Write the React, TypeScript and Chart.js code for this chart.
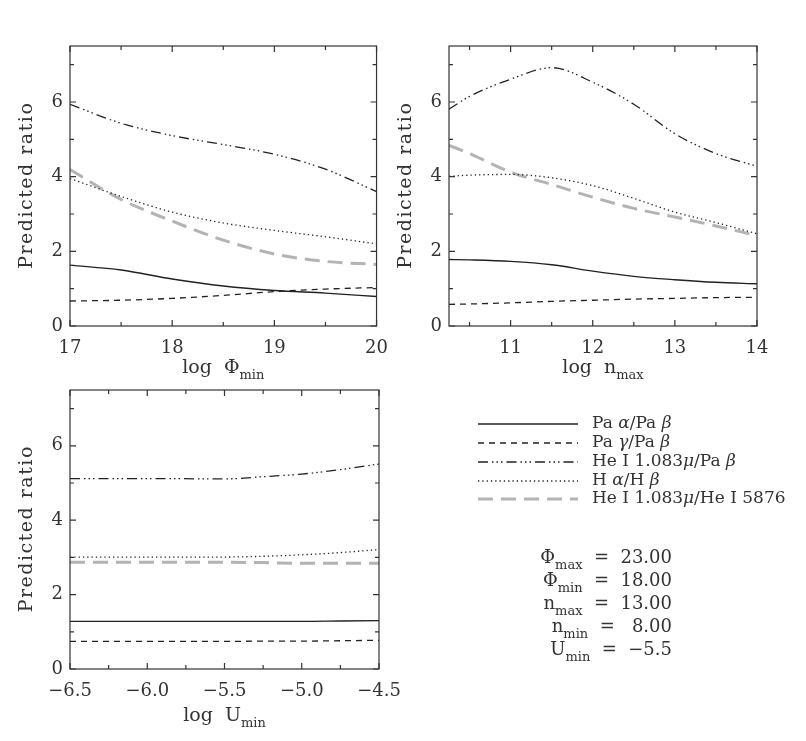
import React, { useEffect, useRef } from 'react';
import { Chart, registerables } from 'chart.js';
Chart.register(...registerables);

// ---------- data ----------
const SERIES_LABELS = ['Pa α/Pa β', 'Pa γ/Pa β', 'He I 1.083μ/Pa β', 'H α/H β', 'He I 1.083μ/He I 5876'];

const PHI_X = [17, 17.5, 18, 18.5, 19, 19.5, 20];
const PHI_PAA = [1.63, 1.5, 1.26, 1.07, 0.95, 0.88, 0.79];
const PHI_PAG = [0.67, 0.69, 0.74, 0.82, 0.92, 0.99, 1.03];
const PHI_HEPA = [5.94, 5.43, 5.1, 4.86, 4.6, 4.2, 3.6];
const PHI_HAHB = [3.95, 3.47, 3.05, 2.76, 2.56, 2.39, 2.2];
const PHI_HEHE = [4.19, 3.39, 2.81, 2.3, 1.93, 1.73, 1.65];

const N_X = [10.25, 10.5, 11, 11.5, 12, 12.5, 13, 13.5, 14];
const N_PAA = [1.78, 1.77, 1.73, 1.64, 1.47, 1.33, 1.24, 1.17, 1.13];
const N_PAG = [0.58, 0.59, 0.62, 0.66, 0.69, 0.72, 0.74, 0.76, 0.77];
const N_HEPA = [5.81, 6.15, 6.61, 6.92, 6.53, 5.94, 5.15, 4.62, 4.28];
const N_HAHB = [4.01, 4.04, 4.06, 3.97, 3.76, 3.42, 3.05, 2.77, 2.47];
const N_HEHE = [4.84, 4.62, 4.12, 3.79, 3.45, 3.15, 2.92, 2.68, 2.42];

const U_X = [-6.5, -6.0, -5.5, -5.25, -5.0, -4.75, -4.5];
const U_PAA = [1.28, 1.28, 1.28, 1.28, 1.28, 1.29, 1.3];
const U_PAG = [0.74, 0.74, 0.74, 0.75, 0.75, 0.76, 0.77];
const U_HEPA = [5.12, 5.12, 5.11, 5.17, 5.24, 5.36, 5.51];
const U_HAHB = [3.01, 3.01, 3.01, 3.03, 3.07, 3.13, 3.21];
const U_HEHE = [2.87, 2.87, 2.87, 2.86, 2.84, 2.84, 2.84];

const Y_TICKS = [0, 2, 4, 6];
const Y_MINOR = [1, 3, 5, 7];
const PHI_TICKS = [17, 18, 19, 20];
const PHI_MINOR = [17.5, 18.5, 19.5];
const N_TICKS = [11, 12, 13, 14];
const N_MINOR = [10.5, 11.5, 12.5, 13.5];
const U_TICKS = [-6.5, -6.0, -5.5, -5.0, -4.5];
const U_MINOR = [-6.25, -5.75, -5.25, -4.75];

const PARAM_NAMES = ['Φ', 'Φ', 'n', 'n', 'U'];
const PARAM_SUBS = ['max', 'min', 'max', 'min', 'min'];
const PARAM_VALUES = ['23.00', '18.00', '13.00', ' 8.00', '−5.5'];

// ---------- styles ----------
const FONT = '"DejaVu Serif", serif';
const INK = '#333';
const STYLES = [
  { color: '#222', width: 1.4, dash: [] as number[] },
  { color: '#222', width: 1.3, dash: [6, 5] },
  { color: '#222', width: 1.3, dash: [10, 4, 1.5, 3, 1.5, 3, 1.5, 4] },
  { color: '#222', width: 1.3, dash: [1.3, 3] },
  { color: '#b3b3b3', width: 3, dash: [15, 8] },
];

type Seg = { t: string; size: number; italic?: boolean; dy?: number };

function fontStr(s: Seg) {
  return `${s.italic ? 'italic ' : ''}${s.size}px ${FONT}`;
}

function drawRich(ctx: any, segs: Seg[], x: number, y: number, align: string, spacing = 0) {
  ctx.letterSpacing = spacing + 'px';
  const widths = segs.map((s) => {
    ctx.font = fontStr(s);
    return ctx.measureText(s.t).width;
  });
  const total = widths.reduce((a, b) => a + b, 0) - spacing;
  let cx = align === 'left' ? x : align === 'center' ? x - total / 2 : x - total;
  ctx.textAlign = 'left';
  segs.forEach((s, i) => {
    ctx.font = fontStr(s);
    ctx.fillText(s.t, cx, y + (s.dy || 0));
    cx += widths[i];
  });
  ctx.letterSpacing = '0px';
}

function greekSegs(label: string, size: number): Seg[] {
  const segs: Seg[] = [];
  for (const ch of label) {
    const it = /[α-ωμ]/.test(ch);
    const last = segs[segs.length - 1];
    if (last && !!last.italic === it) last.t += ch;
    else segs.push({ t: ch, size, italic: it });
  }
  return segs;
}

const framePlugin = {
  id: 'frame',
  afterDraw(chart: any, _args: any, opts: any) {
    const { ctx, chartArea: a, scales } = chart;
    const sx = scales.x;
    const sy = scales.y;
    ctx.save();
    ctx.strokeStyle = INK;
    ctx.lineWidth = 1.2;
    ctx.setLineDash([]);
    ctx.strokeRect(a.left, a.top, a.right - a.left, a.bottom - a.top);
    const drawX = (vals: number[], len: number) => {
      vals.forEach((v) => {
        const px = sx.getPixelForValue(v);
        ctx.beginPath();
        ctx.moveTo(px, a.bottom);
        ctx.lineTo(px, a.bottom - len);
        ctx.moveTo(px, a.top);
        ctx.lineTo(px, a.top + len);
        ctx.stroke();
      });
    };
    const drawY = (vals: number[], len: number) => {
      vals.forEach((v) => {
        const py = sy.getPixelForValue(v);
        ctx.beginPath();
        ctx.moveTo(a.left, py);
        ctx.lineTo(a.left + len, py);
        ctx.moveTo(a.right, py);
        ctx.lineTo(a.right - len, py);
        ctx.stroke();
      });
    };
    drawX(sx.ticks.map((t: any) => t.value), 6);
    drawX(opts.xMinor, 4);
    drawY(sy.ticks.map((t: any) => t.value), 6);
    drawY(opts.yMinor, 4);

    ctx.fillStyle = INK;
    ctx.textBaseline = 'alphabetic';
    // x title
    drawRich(
      ctx,
      [
        { t: 'log  ' + opts.xMain, size: 19 },
        { t: opts.xSub, size: 13, dy: 6 },
      ],
      (a.left + a.right) / 2,
      a.bottom + opts.xTitleOffset,
      'center'
    );
    // y title
    ctx.save();
    ctx.translate(a.left - 43, (a.top + a.bottom) / 2);
    ctx.rotate(-Math.PI / 2);
    ctx.textBaseline = 'middle';
    drawRich(ctx, [{ t: 'Predicted ratio', size: 19 }], 0, 0, 'center', 1.5);
    ctx.restore();

    if (opts.legend) {
      const oy = opts.offsetY;
      const rows = [424, 443, 462, 481, 499];
      chart.data.datasets.forEach((ds: any, i: number) => {
        const y = rows[i] - oy;
        ctx.save();
        ctx.strokeStyle = ds.borderColor;
        ctx.lineWidth = ds.borderWidth;
        ctx.setLineDash(ds.borderDash || []);
        ctx.beginPath();
        ctx.moveTo(478, y);
        ctx.lineTo(578, y);
        ctx.stroke();
        ctx.restore();
        ctx.textBaseline = 'middle';
        drawRich(ctx, greekSegs(ds.label, 17), 592, y, 'left');
      });
      ctx.textBaseline = 'alphabetic';
      const base = [563, 586, 609, 632, 655];
      PARAM_NAMES.forEach((nm, i) => {
        drawRich(
          ctx,
          [
            { t: nm, size: 18 },
            { t: PARAM_SUBS[i], size: 13, dy: 6 },
            { t: '  =  ' + PARAM_VALUES[i], size: 18 },
          ],
          672,
          base[i] - oy,
          'right'
        );
      });
    }
    ctx.restore();
  },
};

function buildConfig(p: any) {
  return {
    type: 'line',
    data: {
      datasets: p.ys.map((ys: number[], i: number) => ({
        label: SERIES_LABELS[i],
        data: p.xs.map((x: number, j: number) => ({ x, y: ys[j] })),
        borderColor: STYLES[i].color,
        borderWidth: STYLES[i].width,
        borderDash: STYLES[i].dash,
        pointRadius: 0,
        fill: false,
        cubicInterpolationMode: 'monotone',
      })),
    },
    options: {
      animation: false,
      responsive: false,
      maintainAspectRatio: false,
      events: [],
      layout: { padding: p.pad },
      plugins: {
        legend: { display: false },
        tooltip: { enabled: false },
        frame: {
          xMinor: p.xMinor,
          yMinor: Y_MINOR,
          xMain: p.xMain,
          xSub: p.xSub,
          xTitleOffset: p.xTitleOffset,
          legend: !!p.legend,
          offsetY: p.top,
        },
      },
      scales: {
        x: {
          type: 'linear',
          min: p.xMin,
          max: p.xMax,
          grid: { display: false, drawTicks: false },
          border: { display: false },
          afterFit: (s: any) => {
            s.height = p.xh;
          },
          afterBuildTicks: (s: any) => {
            s.ticks = p.xTicks.map((v: number) => ({ value: v }));
          },
          ticks: {
            padding: 12,
            color: INK,
            font: { family: FONT, size: 18 },
            maxRotation: 0,
            autoSkip: false,
            callback: (v: number) => p.fmt(v),
          },
        },
        y: {
          type: 'linear',
          min: 0,
          max: 7.5,
          grid: { display: false, drawTicks: false },
          border: { display: false },
          afterFit: (s: any) => {
            s.width = p.yw;
          },
          afterBuildTicks: (s: any) => {
            s.ticks = Y_TICKS.map((v) => ({ value: v }));
          },
          ticks: {
            padding: 7,
            color: INK,
            font: { family: FONT, size: 18 },
            autoSkip: false,
            callback: (v: number) => String(v),
          },
        },
      },
    },
    plugins: [framePlugin],
  };
}

const fmtInt = (v: number) => String(Math.round(v));
const fmtU = (v: number) => v.toFixed(1).replace('-', '−');

const PANELS = [
  {
    left: 0, top: 0, w: 400, h: 385, yw: 70, xh: 59,
    pad: { top: 46, right: 21, left: 0, bottom: 0 },
    xs: PHI_X, ys: [PHI_PAA, PHI_PAG, PHI_HEPA, PHI_HAHB, PHI_HEHE],
    xMin: 17, xMax: 20, xTicks: PHI_TICKS, xMinor: PHI_MINOR, fmt: fmtInt,
    xMain: 'Φ', xSub: 'min', xTitleOffset: 47,
  },
  {
    left: 390, top: 0, w: 416, h: 385, yw: 59, xh: 59,
    pad: { top: 46, right: 49, left: 0, bottom: 0 },
    xs: N_X, ys: [N_PAA, N_PAG, N_HEPA, N_HAHB, N_HEHE],
    xMin: 10.25, xMax: 14, xTicks: N_TICKS, xMinor: N_MINOR, fmt: fmtInt,
    xMain: 'n', xSub: 'max', xTitleOffset: 47,
  },
  {
    left: 0, top: 360, w: 806, h: 381, yw: 70, xh: 72,
    pad: { top: 30, right: 427, left: 0, bottom: 0 },
    xs: U_X, ys: [U_PAA, U_PAG, U_HEPA, U_HAHB, U_HEHE],
    xMin: -6.5, xMax: -4.5, xTicks: U_TICKS, xMinor: U_MINOR, fmt: fmtU,
    xMain: 'U', xSub: 'min', xTitleOffset: 52, legend: true,
  },
];

function Panel({ p }: { p: any }) {
  const ref = useRef<HTMLCanvasElement>(null);
  useEffect(() => {
    const chart = new Chart(ref.current as HTMLCanvasElement, buildConfig(p) as any);
    return () => chart.destroy();
  }, [p]);
  return (
    <canvas
      ref={ref}
      width={p.w}
      height={p.h}
      style={{ position: 'absolute', left: p.left, top: p.top, width: p.w, height: p.h }}
    />
  );
}

export default function App() {
  return (
    <div style={{ position: 'absolute', left: 0, top: 0, width: 806, height: 741, background: '#fff', overflow: 'hidden' }}>
      {PANELS.map((p, i) => (
        <Panel key={i} p={p} />
      ))}
    </div>
  );
}
